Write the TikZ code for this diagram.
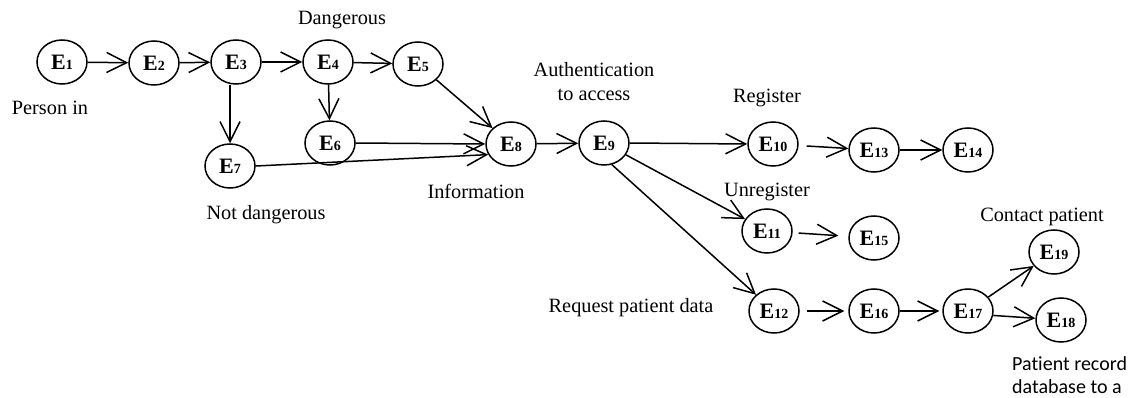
\documentclass[tikz,border=0pt]{standalone}
\usepackage{fontspec}
\setmainfont{Liberation Serif}
\newfontfamily\calib[Ligatures=NoCommon]{Carlito}
\usetikzlibrary{shapes.geometric,arrows.meta}
\newcommand\esub[1]{E{\fontsize{14}{14}\selectfont #1}}
\begin{document}
\begin{tikzpicture}[x=1pt,y=-1pt,
  ev/.style={ellipse, draw, line width=1.5pt, minimum width=50pt, minimum height=44pt, inner sep=0pt, font=\fontsize{22}{22}\selectfont\bfseries},
  arr/.style={line width=1.5pt, -{Straight Barb[length=20pt,width=20pt,line width=1.5pt]}},
  lbl/.style={font=\fontsize{20.3}{24}\selectfont, align=center, inner sep=0pt}]
\useasboundingbox (0,0) rectangle (1133,398);
% nodes
\node[ev] (E1) at (62,62) {\esub{1}};
\node[ev] (E2) at (154,63) {\esub{2}};
\node[ev] (E3) at (236,62) {\esub{3}};
\node[ev] (E4) at (328,62) {\esub{4}};
\node[ev] (E5) at (418,64) {\esub{5}};
\node[ev] (E6) at (330,143) {\esub{6}};
\node[ev] (E7) at (230,166) {\esub{7}};
\node[ev] (E8) at (511,144) {\esub{8}};
\node[ev] (E9) at (604,143) {\esub{9}};
\node[ev] (E10) at (773,144) {\esub{10}};
\node[ev] (E13) at (874,150) {\esub{13}};
\node[ev] (E14) at (968,150) {\esub{14}};
\node[ev] (E11) at (767,231) {\esub{11}};
\node[ev] (E15) at (874,238) {\esub{15}};
\node[ev] (E12) at (774,311) {\esub{12}};
\node[ev] (E16) at (874,311) {\esub{16}};
\node[ev] (E17) at (968,311) {\esub{17}};
\node[ev] (E19) at (1054,252) {\esub{19}};
\node[ev] (E18) at (1061,320) {\esub{18}};
% labels
\node[lbl] (lperson) at (50,108) {Person in};
\node[lbl] (ldanger) at (342,20) {Dangerous};
\node[lbl] (lnot) at (266,215) {Not dangerous};
\node[lbl] (linfo) at (476,191) {Information};
\node[lbl] (lauth) at (594,82) {Authentication\\to access};
\node[lbl] (lreg) at (767,98) {Register};
\node[lbl] (lunreg) at (767,192) {Unregister};
\node[lbl] (lreq) at (631,308) {Request patient data};
\node[lbl] (lcontact) at (1042,217) {Contact patient};
\node[lbl, font=\calib\fontsize{20}{23}\selectfont, align=left, anchor=west] (lrecord) at (1012,375) {Patient record\\database to a};
% connectors
\draw[arr] (E1) -- (E2);
\draw[arr] (E2) -- (E3);
\draw[arr] (E3) -- (E4);
\draw[arr] (E4) -- (E5);
\draw[arr] (E3.south -| E7.north) -- (E7.north);
\draw[arr] (E4) -- (E6);
\draw[arr] (E5) -- (E8);
\draw[arr] (E6.east) -- (E8.west);
\draw[arr] (E7.east) -- (E8.205);
\draw[arr] (E8) -- (E9);
\draw[arr] (E9.east) -- (E10.west);
\draw[arr, shorten <=8pt] (E10) -- (E13);
\draw[arr] (E13) -- (E14);
\draw[arr] (E9) -- (E11);
\draw[arr] (E9.-70) -- (E12);
\draw[arr, shorten <=6pt, shorten >=10pt] (E11) -- (E15);
\draw[arr, shorten <=7pt, shorten >=4pt] (E12) -- (E16);
\draw[arr, shorten >=3pt] (E16) -- (E17);
\draw[arr] (E17) -- (E19);
\draw[arr] (E17.-10) -- (E18);
\end{tikzpicture}
\end{document}
